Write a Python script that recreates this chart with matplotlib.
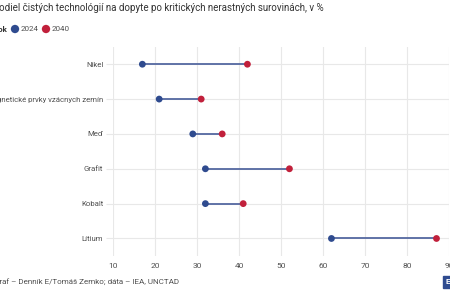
import matplotlib
matplotlib.use("Agg")
import matplotlib.pyplot as plt
from matplotlib.patches import Rectangle

plt.rcParams['font.family'] = ['Roboto', 'DejaVu Sans']

# data
suroviny = ["Nikel", "Magnetické prvky vzácnych zemín", "Meď", "Grafit", "Kobalt", "Lítium"]
rok_2024 = [17, 21, 29, 32, 32, 62]
rok_2040 = [42, 31, 36, 52, 41, 87]
x_ticks = [10, 20, 30, 40, 50, 60, 70, 80, 90]

blue = "#2f4b8f"
red = "#c1203b"
line_col = "#5468a0"
text_col = "#505050"
grid_col = "#e8e8e8"

fig = plt.figure(figsize=(4.5, 3), dpi=100)
ax = fig.add_axes([0.251, 0.147, 0.747, 0.697])

y = list(range(len(suroviny)))
ax.hlines(y, rok_2024, rok_2040, color=line_col, lw=1.3, zorder=2)
ax.scatter(rok_2024, y, s=24, color=blue, zorder=3, edgecolor="none")
ax.scatter(rok_2040, y, s=24, color=red, zorder=3, edgecolor="none")

ax.set_xlim(10, 90)
ax.set_ylim(len(suroviny) - 0.5, -0.5)
ax.set_xticks(x_ticks)
ax.set_yticks(y)
ax.set_yticklabels(suroviny)
ax.tick_params(axis="y", length=5, color=grid_col, pad=2, labelsize=5.6, labelcolor=text_col)
ax.tick_params(axis="x", length=0, pad=5, labelsize=6, labelcolor=text_col)
ax.grid(True, color=grid_col, lw=0.8, zorder=0)
for s in ax.spines.values():
    s.set_visible(False)

# overlay in pixel coordinates for title, legend, source (left side is cropped in the reference)
ov = fig.add_axes([0, 0, 1, 1], facecolor="none")
ov.set_xlim(0, 450)
ov.set_ylim(300, 0)
ov.axis("off")
ov.text(-7, 8, "Podiel čistých technológií na dopyte po kritických nerastných surovinách, v %",
        fontsize=7.0, color="#333333", va="center")
ov.text(-7, 29, "Rok", fontsize=5.8, fontweight="bold", color="#333333", va="center")
ov.scatter([15], [29], s=36, color=blue, edgecolor="none")
ov.text(21, 29, "2024", fontsize=5.8, color=text_col, va="center")
ov.scatter([46], [29], s=36, color=red, edgecolor="none")
ov.text(52, 29, "2040", fontsize=5.8, color=text_col, va="center")
ov.text(-6, 282, "Graf – Denník E/Tomáš Zemko; dáta – IEA, UNCTAD",
        fontsize=5.8, color=text_col, va="center")
ov.add_patch(Rectangle((443, 276), 10, 12, color=blue))
ov.text(445.5, 282, "E", fontsize=6, color="white", va="center", fontweight="bold")

fig.savefig("out.png", dpi=100)
